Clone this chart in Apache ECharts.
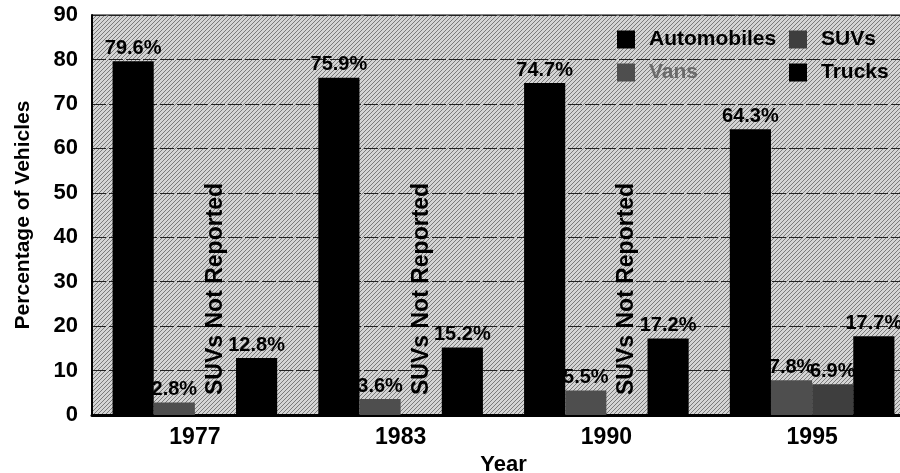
<!DOCTYPE html>
<html>
<head>
<meta charset="utf-8">
<script src="https://cdn.jsdelivr.net/npm/echarts@6/dist/echarts.min.js"></script>
<style>
  html, body { margin: 0; padding: 0; background: #fff; }
  #chart { width: 900px; height: 473px; }
</style>
</head>
<body>
<div id="chart"></div>
<script>
// data
const years = ['1977', '1983', '1990', '1995'];
const automobiles = [79.6, 75.9, 74.7, 64.3];
const vans = [2.8, 3.6, 5.5, 7.8];
const suvs = [null, null, null, 6.9];   // null = not reported
const trucks = [12.8, 15.2, 17.2, 17.7];
const notReportedText = 'SUVs Not Reported';

const font = 'Liberation Sans, Arial, sans-serif';

// halftone-ish screen for the plot background
function screen(bg, fg) {
  const c = document.createElement('canvas');
  c.width = 4; c.height = 4;
  const g = c.getContext('2d');
  g.fillStyle = bg; g.fillRect(0, 0, 4, 4);
  g.fillStyle = fg;
  for (let i = 0; i < 4; i++) g.fillRect(i, 3 - i, 1, 1);
  return { image: c, repeat: 'repeat' };
}

const valueLabel = {
  show: true, position: 'top', distance: 3,
  formatter: '{c}%', color: '#000',
  fontFamily: font, fontWeight: 'bold', fontSize: 20
};

const suvData = suvs.map(v => v === null ? {
  value: 0,
  label: {
    show: true, position: 'top', rotate: 90, distance: 20,
    align: 'left', verticalAlign: 'middle',
    formatter: notReportedText, fontSize: 23,
    fontFamily: font, fontWeight: 'bold', color: '#000'
  }
} : v);

function legendItem(name, left, top, color) {
  return {
    data: [name], left: left, top: top, padding: 0,
    icon: 'rect', itemWidth: 18, itemHeight: 18,
    selectedMode: false,
    textStyle: { fontFamily: font, fontWeight: 'bold', fontSize: 21,
                 color: color || '#000', padding: [0, 0, 0, 9] }
  };
}

const chart = echarts.init(document.getElementById('chart'));
chart.setOption({
  animation: false,
  color: ['#000', '#4e4e4e', '#3e3e3e', '#000'],
  legend: [
    legendItem('Automobiles', 617, 29),
    legendItem('SUVs', 789, 29),
    legendItem('Vans', 617, 62, '#6a6a6a'),
    legendItem('Trucks', 789, 62)
  ],
  grid: {
    left: 92, top: 15, bottom: 58, right: -15,
    outerBoundsMode: 'none',
    show: true, backgroundColor: screen('#d4d4d4', '#7a7a7a'),
    borderColor: '#000', borderWidth: 1
  },
  xAxis: {
    type: 'category', data: years,
    axisLine: { lineStyle: { color: '#000', width: 3 } },
    axisTick: { show: false },
    axisLabel: { color: '#000', fontFamily: font, fontWeight: 'bold', fontSize: 23, margin: 11 },
    name: 'Year', nameLocation: 'middle', nameGap: 35,
    nameTextStyle: { color: '#000', fontFamily: font, fontWeight: 'bold', fontSize: 22 }
  },
  yAxis: {
    type: 'value', min: 0, max: 90, interval: 10,
    axisLine: { show: true, lineStyle: { color: '#000', width: 2 } },
    axisTick: { show: false },
    axisLabel: { color: '#000', fontFamily: font, fontWeight: 'bold', fontSize: 22, margin: 14 },
    splitLine: { lineStyle: { color: '#222', width: 1, type: [14, 3] } },
    name: 'Percentage of Vehicles', nameLocation: 'middle', nameGap: 58,
    nameTextStyle: { color: '#000', fontFamily: font, fontWeight: 'bold', fontSize: 21 }
  },
  series: [
    { name: 'Automobiles', type: 'bar', data: automobiles, barGap: '0%', barCategoryGap: '20%', label: valueLabel },
    { name: 'Vans', type: 'bar', data: vans, barGap: '0%', label: valueLabel },
    { name: 'SUVs', type: 'bar', data: suvData, barGap: '0%', label: valueLabel },
    { name: 'Trucks', type: 'bar', data: trucks, barGap: '0%', label: valueLabel }
  ]
});
</script>
</body>
</html>
